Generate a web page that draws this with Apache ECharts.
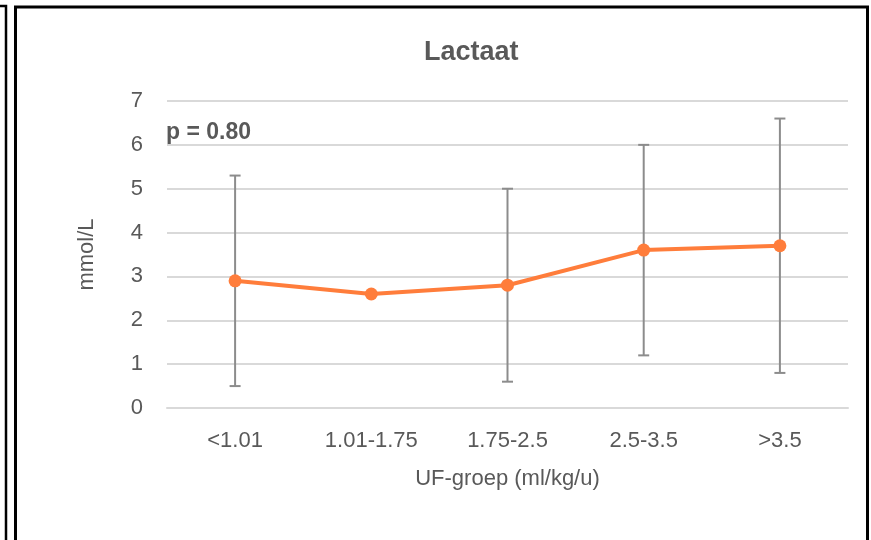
<!DOCTYPE html>
<html>
<head>
<meta charset="utf-8">
<script src="https://cdn.jsdelivr.net/npm/echarts@6/dist/echarts.min.js"></script>
<style>
  html, body { margin: 0; padding: 0; background: #fff; }
  #chart { width: 871px; height: 540px; }
</style>
</head>
<body>
<div id="chart"></div>
<script>
// UF-groepen en gemiddelde lactaat (mmol/L) met spreiding
const groups = ['<1.01', '1.01-1.75', '1.75-2.5', '2.5-3.5', '>3.5']
const lactaat = [2.9, 2.6, 2.8, 3.6, 3.7]
const errLow = [0.5, null, 0.6, 1.2, 0.8]
const errHigh = [5.3, null, 5.0, 6.0, 6.6]
const yTicks = [0, 1, 2, 3, 4, 5, 6, 7]
const pText = 'p = 0.80'

const font = 'Liberation Sans, Arial, sans-serif'
const grey = '#595959'

const errData = []
groups.forEach(function (g, i) {
  if (errLow[i] != null && errHigh[i] != null) {
    errData.push([i, errLow[i], errHigh[i]])
  }
})

function renderErr (params, api) {
  const x = api.value(0)
  const lo = api.coord([x, api.value(1)])
  const hi = api.coord([x, api.value(2)])
  const half = 5.5
  const style = { stroke: '#8c8c8c', lineWidth: 2 }
  return {
    type: 'group',
    children: [
      { type: 'line', shape: { x1: lo[0], y1: lo[1], x2: hi[0], y2: hi[1] }, style: style },
      { type: 'line', shape: { x1: hi[0] - half, y1: hi[1], x2: hi[0] + half, y2: hi[1] }, style: style },
      { type: 'line', shape: { x1: lo[0] - half, y1: lo[1], x2: lo[0] + half, y2: lo[1] }, style: style }
    ]
  }
}

const myChart = echarts.init(document.getElementById('chart'))
const option = {
  backgroundColor: '#fff',
  animation: false,
  title: {
    text: 'Lactaat',
    left: 419,
    top: 34,
    textStyle: { fontFamily: font, fontSize: 27, fontWeight: 'bold', color: grey }
  },
  grid: { left: 167, right: 23, top: 101, bottom: 132, outerBoundsMode: 'none' },
  xAxis: {
    type: 'category',
    data: groups,
    boundaryGap: true,
    name: 'UF-groep (ml/kg/u)',
    nameLocation: 'middle',
    nameGap: 60,
    nameTextStyle: { fontFamily: font, fontSize: 22, color: grey },
    axisLine: { show: true, lineStyle: { color: '#d9d9d9', width: 2 } },
    axisTick: { show: false },
    axisLabel: { fontFamily: font, fontSize: 22, color: grey, margin: 22, interval: 0 }
  },
  yAxis: {
    type: 'value',
    min: yTicks[0],
    max: yTicks[yTicks.length - 1],
    interval: 1,
    name: 'mmol/L',
    nameLocation: 'middle',
    nameRotate: 90,
    nameGap: 69,
    nameTextStyle: { fontFamily: font, fontSize: 22, color: grey },
    axisLine: { show: false },
    axisTick: { show: false },
    axisLabel: { fontFamily: font, fontSize: 22, color: grey, margin: 24 },
    splitLine: { lineStyle: { color: '#d9d9d9', width: 2 } }
  },
  graphic: [
    {
      type: 'text',
      left: 166,
      top: 121,
      style: { text: pText, font: 'bold 23px ' + font, fill: grey }
    },
    {
      type: 'polyline',
      shape: { points: [[0, 6], [6, 6], [6, 545]] },
      style: { stroke: '#000', lineWidth: 2.5, fill: null }
    },
    {
      type: 'rect',
      shape: { x: 15.5, y: 7, width: 852, height: 560 },
      style: { stroke: '#000', lineWidth: 3, fill: null }
    }
  ],
  series: [
    {
      type: 'custom',
      renderItem: renderErr,
      data: errData,
      z: 1
    },
    {
      type: 'line',
      data: lactaat,
      z: 3,
      symbol: 'circle',
      symbolSize: 13,
      itemStyle: { color: '#ff7d3b' },
      lineStyle: { color: '#ff7d3b', width: 4 }
    }
  ]
}
myChart.setOption(option)
</script>
</body>
</html>
